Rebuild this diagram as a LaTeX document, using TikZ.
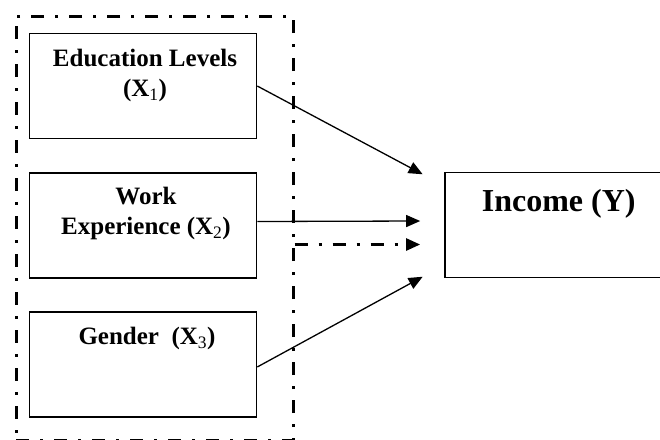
\documentclass[tikz,border=0pt]{standalone}
\usepackage{fontspec}
\setmainfont{Liberation Serif}
\usetikzlibrary{arrows.meta}

\begin{document}
\begin{tikzpicture}[x=1pt, y=-1pt,
    varbox/.style={draw, line width=1.5pt, minimum width=227pt, minimum height=105pt, inner sep=0pt},
    varlabel/.style={anchor=north, align=center, inner sep=0pt, font=\bfseries\fontsize{25}{30}\selectfont},
    dashdot/.style={line width=3pt, dash pattern=on 13pt off 11pt on 3pt off 11pt},
    arr/.style={line width=1.3pt, -{Triangle[length=14pt, width=12pt]}}]
    \useasboundingbox (0,0) rectangle (660,439);
    \clip (0,0) rectangle (660,439);
    \node[draw, dashdot, minimum width=277pt, minimum height=424pt, inner sep=0pt] (frame) at (154.5,228) {};
    \node[varbox] (edu) at (143,86) {};
    \node[varbox] (wrk) at (143,225.5) {};
    \node[varbox] (gen) at (143,364.5) {};
    \node[varbox] (inc) at (558.7,225) {};
    \node[varlabel] (edutxt) at ([xshift=2pt, yshift=-16pt]edu.north) {Education Levels\\(X\textsubscript{\mdseries 1})};
    \node[varlabel] (wrktxt) at ([xshift=3pt, yshift=-15pt]wrk.north) {Work\\Experience (X\textsubscript{\mdseries 2})};
    \node[varlabel] (gentxt) at ([xshift=4pt, yshift=-16pt]gen.north) {Gender~ (X\textsubscript{\mdseries 3})};
    \node[varlabel, font=\bfseries\fontsize{32}{38}\selectfont] (inctxt) at ([yshift=-17pt]inc.north) {Income (Y)};
    \coordinate (fork) at (frame.east |- 0,244.5);
    \draw[arr] (edu.east) -- ([xshift=-21.8pt, yshift=-2.5pt]inc.north west);
    \draw[arr] ([yshift=4pt]wrk.east) -- ([xshift=-24.3pt, yshift=4pt]inc.west);
    \draw[dashdot, line width=2.5pt, -{Triangle[length=14pt, width=12pt]}, shorten >=24.3pt] (fork) -- (fork -| inc.west);
    \draw[arr] ([yshift=-2.5pt]gen.east) -- ([xshift=-21.8pt, yshift=1.5pt]inc.south west);
\end{tikzpicture}
\end{document}
